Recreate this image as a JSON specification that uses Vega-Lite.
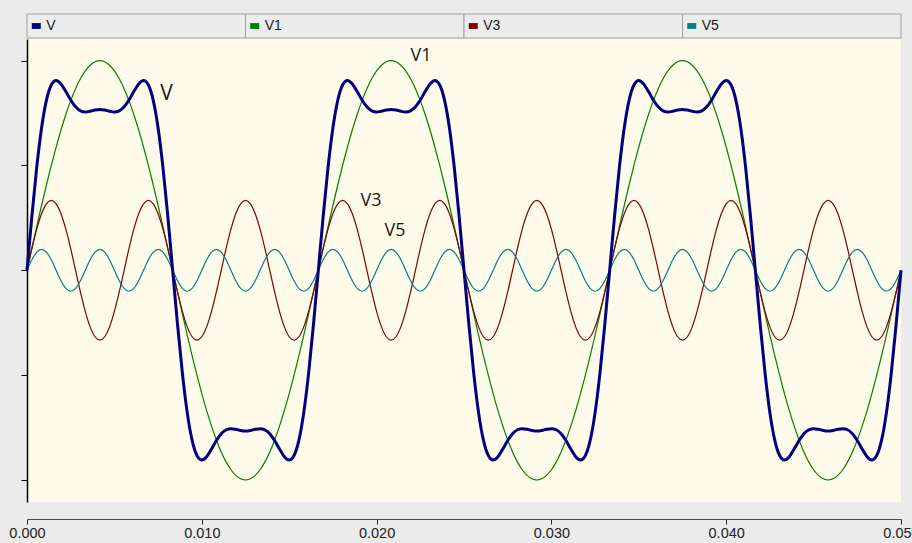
{
"$schema": "https://vega.github.io/schema/vega-lite/v6.json",
"background": "#EBEBEB",
"padding": {"left": 8, "top": 13, "right": 0, "bottom": 3},
"spacing": 1,
"bounds": "flush",
"config": {"view": {"stroke": null}, "font": "Liberation Sans"},
"resolve": {"scale": {"x": "independent", "y": "independent"}},
"datasets": {
"legend": [{"series":"V"},{"series":"V1"},{"series":"V3"},{"series":"V5"}],
"labels": [
{"t":0.00798,"value":0.839,"label":"V"},
{"t":0.02254,"value":1.023,"label":"V1"},
{"t":0.01968,"value":0.331,"label":"V3"},
{"t":0.02105,"value":0.185,"label":"V5"}
],
"wave": [
{"t":0,"V":0,"V1":0,"V3":0,"V5":0},
{"t":0.000278,"V":0.2575,"V1":0.1045,"V3":0.103,"V5":0.05},
{"t":0.000556,"V":0.4904,"V1":0.2079,"V3":0.1959,"V5":0.0866},
{"t":0.000833,"V":0.6787,"V1":0.309,"V3":0.2697,"V5":0.1},
{"t":0.001111,"V":0.8103,"V1":0.4067,"V3":0.317,"V5":0.0866},
{"t":0.001389,"V":0.8833,"V1":0.5,"V3":0.3333,"V5":0.05},
{"t":0.001667,"V":0.9048,"V1":0.5878,"V3":0.317,"V5":0},
{"t":0.001944,"V":0.8888,"V1":0.6691,"V3":0.2697,"V5":-0.05},
{"t":0.002222,"V":0.8524,"V1":0.7431,"V3":0.1959,"V5":-0.0866},
{"t":0.0025,"V":0.812,"V1":0.809,"V3":0.103,"V5":-0.1},
{"t":0.002778,"V":0.7794,"V1":0.866,"V3":0,"V5":-0.0866},
{"t":0.003056,"V":0.7605,"V1":0.9135,"V3":-0.103,"V5":-0.05},
{"t":0.003333,"V":0.7552,"V1":0.9511,"V3":-0.1959,"V5":0},
{"t":0.003611,"V":0.7584,"V1":0.9781,"V3":-0.2697,"V5":0.05},
{"t":0.003889,"V":0.7641,"V1":0.9945,"V3":-0.317,"V5":0.0866},
{"t":0.004167,"V":0.7667,"V1":1,"V3":-0.3333,"V5":0.1},
{"t":0.004444,"V":0.7641,"V1":0.9945,"V3":-0.317,"V5":0.0866},
{"t":0.004722,"V":0.7584,"V1":0.9781,"V3":-0.2697,"V5":0.05},
{"t":0.005,"V":0.7552,"V1":0.9511,"V3":-0.1959,"V5":0},
{"t":0.005278,"V":0.7605,"V1":0.9135,"V3":-0.103,"V5":-0.05},
{"t":0.005556,"V":0.7794,"V1":0.866,"V3":0,"V5":-0.0866},
{"t":0.005833,"V":0.812,"V1":0.809,"V3":0.103,"V5":-0.1},
{"t":0.006111,"V":0.8524,"V1":0.7431,"V3":0.1959,"V5":-0.0866},
{"t":0.006389,"V":0.8888,"V1":0.6691,"V3":0.2697,"V5":-0.05},
{"t":0.006667,"V":0.9048,"V1":0.5878,"V3":0.317,"V5":0},
{"t":0.006944,"V":0.8833,"V1":0.5,"V3":0.3333,"V5":0.05},
{"t":0.007222,"V":0.8103,"V1":0.4067,"V3":0.317,"V5":0.0866},
{"t":0.0075,"V":0.6787,"V1":0.309,"V3":0.2697,"V5":0.1},
{"t":0.007778,"V":0.4904,"V1":0.2079,"V3":0.1959,"V5":0.0866},
{"t":0.008056,"V":0.2575,"V1":0.1045,"V3":0.103,"V5":0.05},
{"t":0.008333,"V":0,"V1":0,"V3":0,"V5":0},
{"t":0.008611,"V":-0.2575,"V1":-0.1045,"V3":-0.103,"V5":-0.05},
{"t":0.008889,"V":-0.4904,"V1":-0.2079,"V3":-0.1959,"V5":-0.0866},
{"t":0.009167,"V":-0.6787,"V1":-0.309,"V3":-0.2697,"V5":-0.1},
{"t":0.009444,"V":-0.8103,"V1":-0.4067,"V3":-0.317,"V5":-0.0866},
{"t":0.009722,"V":-0.8833,"V1":-0.5,"V3":-0.3333,"V5":-0.05},
{"t":0.01,"V":-0.9048,"V1":-0.5878,"V3":-0.317,"V5":0},
{"t":0.010278,"V":-0.8888,"V1":-0.6691,"V3":-0.2697,"V5":0.05},
{"t":0.010556,"V":-0.8524,"V1":-0.7431,"V3":-0.1959,"V5":0.0866},
{"t":0.010833,"V":-0.812,"V1":-0.809,"V3":-0.103,"V5":0.1},
{"t":0.011111,"V":-0.7794,"V1":-0.866,"V3":0,"V5":0.0866},
{"t":0.011389,"V":-0.7605,"V1":-0.9135,"V3":0.103,"V5":0.05},
{"t":0.011667,"V":-0.7552,"V1":-0.9511,"V3":0.1959,"V5":0},
{"t":0.011944,"V":-0.7584,"V1":-0.9781,"V3":0.2697,"V5":-0.05},
{"t":0.012222,"V":-0.7641,"V1":-0.9945,"V3":0.317,"V5":-0.0866},
{"t":0.0125,"V":-0.7667,"V1":-1,"V3":0.3333,"V5":-0.1},
{"t":0.012778,"V":-0.7641,"V1":-0.9945,"V3":0.317,"V5":-0.0866},
{"t":0.013056,"V":-0.7584,"V1":-0.9781,"V3":0.2697,"V5":-0.05},
{"t":0.013333,"V":-0.7552,"V1":-0.9511,"V3":0.1959,"V5":0},
{"t":0.013611,"V":-0.7605,"V1":-0.9135,"V3":0.103,"V5":0.05},
{"t":0.013889,"V":-0.7794,"V1":-0.866,"V3":0,"V5":0.0866},
{"t":0.014167,"V":-0.812,"V1":-0.809,"V3":-0.103,"V5":0.1},
{"t":0.014444,"V":-0.8524,"V1":-0.7431,"V3":-0.1959,"V5":0.0866},
{"t":0.014722,"V":-0.8888,"V1":-0.6691,"V3":-0.2697,"V5":0.05},
{"t":0.015,"V":-0.9048,"V1":-0.5878,"V3":-0.317,"V5":0},
{"t":0.015278,"V":-0.8833,"V1":-0.5,"V3":-0.3333,"V5":-0.05},
{"t":0.015556,"V":-0.8103,"V1":-0.4067,"V3":-0.317,"V5":-0.0866},
{"t":0.015833,"V":-0.6787,"V1":-0.309,"V3":-0.2697,"V5":-0.1},
{"t":0.016111,"V":-0.4904,"V1":-0.2079,"V3":-0.1959,"V5":-0.0866},
{"t":0.016389,"V":-0.2575,"V1":-0.1045,"V3":-0.103,"V5":-0.05},
{"t":0.016667,"V":0,"V1":0,"V3":0,"V5":0},
{"t":0.016944,"V":0.2575,"V1":0.1045,"V3":0.103,"V5":0.05},
{"t":0.017222,"V":0.4904,"V1":0.2079,"V3":0.1959,"V5":0.0866},
{"t":0.0175,"V":0.6787,"V1":0.309,"V3":0.2697,"V5":0.1},
{"t":0.017778,"V":0.8103,"V1":0.4067,"V3":0.317,"V5":0.0866},
{"t":0.018056,"V":0.8833,"V1":0.5,"V3":0.3333,"V5":0.05},
{"t":0.018333,"V":0.9048,"V1":0.5878,"V3":0.317,"V5":0},
{"t":0.018611,"V":0.8888,"V1":0.6691,"V3":0.2697,"V5":-0.05},
{"t":0.018889,"V":0.8524,"V1":0.7431,"V3":0.1959,"V5":-0.0866},
{"t":0.019167,"V":0.812,"V1":0.809,"V3":0.103,"V5":-0.1},
{"t":0.019444,"V":0.7794,"V1":0.866,"V3":0,"V5":-0.0866},
{"t":0.019722,"V":0.7605,"V1":0.9135,"V3":-0.103,"V5":-0.05},
{"t":0.02,"V":0.7552,"V1":0.9511,"V3":-0.1959,"V5":0},
{"t":0.020278,"V":0.7584,"V1":0.9781,"V3":-0.2697,"V5":0.05},
{"t":0.020556,"V":0.7641,"V1":0.9945,"V3":-0.317,"V5":0.0866},
{"t":0.020833,"V":0.7667,"V1":1,"V3":-0.3333,"V5":0.1},
{"t":0.021111,"V":0.7641,"V1":0.9945,"V3":-0.317,"V5":0.0866},
{"t":0.021389,"V":0.7584,"V1":0.9781,"V3":-0.2697,"V5":0.05},
{"t":0.021667,"V":0.7552,"V1":0.9511,"V3":-0.1959,"V5":0},
{"t":0.021944,"V":0.7605,"V1":0.9135,"V3":-0.103,"V5":-0.05},
{"t":0.022222,"V":0.7794,"V1":0.866,"V3":0,"V5":-0.0866},
{"t":0.0225,"V":0.812,"V1":0.809,"V3":0.103,"V5":-0.1},
{"t":0.022778,"V":0.8524,"V1":0.7431,"V3":0.1959,"V5":-0.0866},
{"t":0.023056,"V":0.8888,"V1":0.6691,"V3":0.2697,"V5":-0.05},
{"t":0.023333,"V":0.9048,"V1":0.5878,"V3":0.317,"V5":0},
{"t":0.023611,"V":0.8833,"V1":0.5,"V3":0.3333,"V5":0.05},
{"t":0.023889,"V":0.8103,"V1":0.4067,"V3":0.317,"V5":0.0866},
{"t":0.024167,"V":0.6787,"V1":0.309,"V3":0.2697,"V5":0.1},
{"t":0.024444,"V":0.4904,"V1":0.2079,"V3":0.1959,"V5":0.0866},
{"t":0.024722,"V":0.2575,"V1":0.1045,"V3":0.103,"V5":0.05},
{"t":0.025,"V":0,"V1":0,"V3":0,"V5":0},
{"t":0.025278,"V":-0.2575,"V1":-0.1045,"V3":-0.103,"V5":-0.05},
{"t":0.025556,"V":-0.4904,"V1":-0.2079,"V3":-0.1959,"V5":-0.0866},
{"t":0.025833,"V":-0.6787,"V1":-0.309,"V3":-0.2697,"V5":-0.1},
{"t":0.026111,"V":-0.8103,"V1":-0.4067,"V3":-0.317,"V5":-0.0866},
{"t":0.026389,"V":-0.8833,"V1":-0.5,"V3":-0.3333,"V5":-0.05},
{"t":0.026667,"V":-0.9048,"V1":-0.5878,"V3":-0.317,"V5":0},
{"t":0.026944,"V":-0.8888,"V1":-0.6691,"V3":-0.2697,"V5":0.05},
{"t":0.027222,"V":-0.8524,"V1":-0.7431,"V3":-0.1959,"V5":0.0866},
{"t":0.0275,"V":-0.812,"V1":-0.809,"V3":-0.103,"V5":0.1},
{"t":0.027778,"V":-0.7794,"V1":-0.866,"V3":0,"V5":0.0866},
{"t":0.028056,"V":-0.7605,"V1":-0.9135,"V3":0.103,"V5":0.05},
{"t":0.028333,"V":-0.7552,"V1":-0.9511,"V3":0.1959,"V5":0},
{"t":0.028611,"V":-0.7584,"V1":-0.9781,"V3":0.2697,"V5":-0.05},
{"t":0.028889,"V":-0.7641,"V1":-0.9945,"V3":0.317,"V5":-0.0866},
{"t":0.029167,"V":-0.7667,"V1":-1,"V3":0.3333,"V5":-0.1},
{"t":0.029444,"V":-0.7641,"V1":-0.9945,"V3":0.317,"V5":-0.0866},
{"t":0.029722,"V":-0.7584,"V1":-0.9781,"V3":0.2697,"V5":-0.05},
{"t":0.03,"V":-0.7552,"V1":-0.9511,"V3":0.1959,"V5":0},
{"t":0.030278,"V":-0.7605,"V1":-0.9135,"V3":0.103,"V5":0.05},
{"t":0.030556,"V":-0.7794,"V1":-0.866,"V3":0,"V5":0.0866},
{"t":0.030833,"V":-0.812,"V1":-0.809,"V3":-0.103,"V5":0.1},
{"t":0.031111,"V":-0.8524,"V1":-0.7431,"V3":-0.1959,"V5":0.0866},
{"t":0.031389,"V":-0.8888,"V1":-0.6691,"V3":-0.2697,"V5":0.05},
{"t":0.031667,"V":-0.9048,"V1":-0.5878,"V3":-0.317,"V5":0},
{"t":0.031944,"V":-0.8833,"V1":-0.5,"V3":-0.3333,"V5":-0.05},
{"t":0.032222,"V":-0.8103,"V1":-0.4067,"V3":-0.317,"V5":-0.0866},
{"t":0.0325,"V":-0.6787,"V1":-0.309,"V3":-0.2697,"V5":-0.1},
{"t":0.032778,"V":-0.4904,"V1":-0.2079,"V3":-0.1959,"V5":-0.0866},
{"t":0.033056,"V":-0.2575,"V1":-0.1045,"V3":-0.103,"V5":-0.05},
{"t":0.033333,"V":0,"V1":0,"V3":0,"V5":0},
{"t":0.033611,"V":0.2575,"V1":0.1045,"V3":0.103,"V5":0.05},
{"t":0.033889,"V":0.4904,"V1":0.2079,"V3":0.1959,"V5":0.0866},
{"t":0.034167,"V":0.6787,"V1":0.309,"V3":0.2697,"V5":0.1},
{"t":0.034444,"V":0.8103,"V1":0.4067,"V3":0.317,"V5":0.0866},
{"t":0.034722,"V":0.8833,"V1":0.5,"V3":0.3333,"V5":0.05},
{"t":0.035,"V":0.9048,"V1":0.5878,"V3":0.317,"V5":0},
{"t":0.035278,"V":0.8888,"V1":0.6691,"V3":0.2697,"V5":-0.05},
{"t":0.035556,"V":0.8524,"V1":0.7431,"V3":0.1959,"V5":-0.0866},
{"t":0.035833,"V":0.812,"V1":0.809,"V3":0.103,"V5":-0.1},
{"t":0.036111,"V":0.7794,"V1":0.866,"V3":0,"V5":-0.0866},
{"t":0.036389,"V":0.7605,"V1":0.9135,"V3":-0.103,"V5":-0.05},
{"t":0.036667,"V":0.7552,"V1":0.9511,"V3":-0.1959,"V5":0},
{"t":0.036944,"V":0.7584,"V1":0.9781,"V3":-0.2697,"V5":0.05},
{"t":0.037222,"V":0.7641,"V1":0.9945,"V3":-0.317,"V5":0.0866},
{"t":0.0375,"V":0.7667,"V1":1,"V3":-0.3333,"V5":0.1},
{"t":0.037778,"V":0.7641,"V1":0.9945,"V3":-0.317,"V5":0.0866},
{"t":0.038056,"V":0.7584,"V1":0.9781,"V3":-0.2697,"V5":0.05},
{"t":0.038333,"V":0.7552,"V1":0.9511,"V3":-0.1959,"V5":0},
{"t":0.038611,"V":0.7605,"V1":0.9135,"V3":-0.103,"V5":-0.05},
{"t":0.038889,"V":0.7794,"V1":0.866,"V3":0,"V5":-0.0866},
{"t":0.039167,"V":0.812,"V1":0.809,"V3":0.103,"V5":-0.1},
{"t":0.039444,"V":0.8524,"V1":0.7431,"V3":0.1959,"V5":-0.0866},
{"t":0.039722,"V":0.8888,"V1":0.6691,"V3":0.2697,"V5":-0.05},
{"t":0.04,"V":0.9048,"V1":0.5878,"V3":0.317,"V5":0},
{"t":0.040278,"V":0.8833,"V1":0.5,"V3":0.3333,"V5":0.05},
{"t":0.040556,"V":0.8103,"V1":0.4067,"V3":0.317,"V5":0.0866},
{"t":0.040833,"V":0.6787,"V1":0.309,"V3":0.2697,"V5":0.1},
{"t":0.041111,"V":0.4904,"V1":0.2079,"V3":0.1959,"V5":0.0866},
{"t":0.041389,"V":0.2575,"V1":0.1045,"V3":0.103,"V5":0.05},
{"t":0.041667,"V":0,"V1":0,"V3":0,"V5":0},
{"t":0.041944,"V":-0.2575,"V1":-0.1045,"V3":-0.103,"V5":-0.05},
{"t":0.042222,"V":-0.4904,"V1":-0.2079,"V3":-0.1959,"V5":-0.0866},
{"t":0.0425,"V":-0.6787,"V1":-0.309,"V3":-0.2697,"V5":-0.1},
{"t":0.042778,"V":-0.8103,"V1":-0.4067,"V3":-0.317,"V5":-0.0866},
{"t":0.043056,"V":-0.8833,"V1":-0.5,"V3":-0.3333,"V5":-0.05},
{"t":0.043333,"V":-0.9048,"V1":-0.5878,"V3":-0.317,"V5":0},
{"t":0.043611,"V":-0.8888,"V1":-0.6691,"V3":-0.2697,"V5":0.05},
{"t":0.043889,"V":-0.8524,"V1":-0.7431,"V3":-0.1959,"V5":0.0866},
{"t":0.044167,"V":-0.812,"V1":-0.809,"V3":-0.103,"V5":0.1},
{"t":0.044444,"V":-0.7794,"V1":-0.866,"V3":0,"V5":0.0866},
{"t":0.044722,"V":-0.7605,"V1":-0.9135,"V3":0.103,"V5":0.05},
{"t":0.045,"V":-0.7552,"V1":-0.9511,"V3":0.1959,"V5":0},
{"t":0.045278,"V":-0.7584,"V1":-0.9781,"V3":0.2697,"V5":-0.05},
{"t":0.045556,"V":-0.7641,"V1":-0.9945,"V3":0.317,"V5":-0.0866},
{"t":0.045833,"V":-0.7667,"V1":-1,"V3":0.3333,"V5":-0.1},
{"t":0.046111,"V":-0.7641,"V1":-0.9945,"V3":0.317,"V5":-0.0866},
{"t":0.046389,"V":-0.7584,"V1":-0.9781,"V3":0.2697,"V5":-0.05},
{"t":0.046667,"V":-0.7552,"V1":-0.9511,"V3":0.1959,"V5":0},
{"t":0.046944,"V":-0.7605,"V1":-0.9135,"V3":0.103,"V5":0.05},
{"t":0.047222,"V":-0.7794,"V1":-0.866,"V3":0,"V5":0.0866},
{"t":0.0475,"V":-0.812,"V1":-0.809,"V3":-0.103,"V5":0.1},
{"t":0.047778,"V":-0.8524,"V1":-0.7431,"V3":-0.1959,"V5":0.0866},
{"t":0.048056,"V":-0.8888,"V1":-0.6691,"V3":-0.2697,"V5":0.05},
{"t":0.048333,"V":-0.9048,"V1":-0.5878,"V3":-0.317,"V5":0},
{"t":0.048611,"V":-0.8833,"V1":-0.5,"V3":-0.3333,"V5":-0.05},
{"t":0.048889,"V":-0.8103,"V1":-0.4067,"V3":-0.317,"V5":-0.0866},
{"t":0.049167,"V":-0.6787,"V1":-0.309,"V3":-0.2697,"V5":-0.1},
{"t":0.049444,"V":-0.4904,"V1":-0.2079,"V3":-0.1959,"V5":-0.0866},
{"t":0.049722,"V":-0.2575,"V1":-0.1045,"V3":-0.103,"V5":-0.05},
{"t":0.05,"V":0,"V1":0,"V3":0,"V5":0}
]
},
"vconcat": [
{
"width": 874,
"height": 24,
"data": {"name": "legend"},
"encoding": {
"x": {"field": "series", "type": "nominal", "sort": ["V","V1","V3","V5"], "axis": null, "scale": {"paddingInner": 0, "paddingOuter": 0}}
},
"layer": [
{"mark": {"type": "rect", "fill": "#ECECEC", "stroke": "#A0A0A0", "strokeWidth": 1}},
{"mark": {"type": "point", "filled": true, "opacity": 1, "shape": "M-1,-0.65L1,-0.65L1,0.65L-1,0.65Z", "size": 81, "xOffset": -100},
"encoding": {"color": {"field": "series", "type": "nominal", "legend": null, "scale": {"domain": ["V","V1","V3","V5"], "range": ["#000080","#008000","#800000","#008080"]}}}},
{"mark": {"type": "text", "align": "left", "dx": -90, "fontSize": 14, "font": "Liberation Sans", "color": "#1a1a1a"},
"encoding": {"text": {"field": "series"}}}
]
},
{
"width": 874,
"height": 463,
"view": {"fill": "#FEFBEB", "stroke": null},
"data": {"name": "wave"},
"transform": [{"fold": ["V","V1","V3","V5"], "as": ["series","value"]}],
"encoding": {
"x": {"field": "t", "type": "quantitative",
"scale": {"domain": [0, 0.05], "nice": false},
"axis": {"values": [0,0.01,0.02,0.03,0.04,0.05], "format": ".3f", "title": null, "offset": 17, "grid": false, "domainColor": "#4a4a4a", "tickColor": "#222222", "tickSize": 5, "labelFontSize": 14.5, "labelFont": "Liberation Sans", "labelColor": "#222222", "labelPadding": 2, "labelFlush": false, "labelOverlap": false}},
"y": {"field": "value", "type": "quantitative",
"scale": {"domain": [-1.105, 1.103], "nice": false, "zero": false},
"axis": {"values": [-1,-0.5,0,0.5,1], "labels": false, "title": null, "grid": false, "domainColor": "#000000", "domainWidth": 1.5, "tickColor": "#000000", "tickSize": 6}},
"color": {"field": "series", "type": "nominal", "legend": null, "scale": {"domain": ["V","V1","V3","V5"], "range": ["#000080","#008000","#800000","#008080"]}}
},
"layer": [
{"transform": [{"filter": "datum.series !== 'V'"}], "mark": {"type": "line", "strokeWidth": 1.2, "interpolate": "monotone"}},
{"transform": [{"filter": "datum.series === 'V'"}], "mark": {"type": "line", "strokeWidth": 3, "interpolate": "monotone"}},
{"data": {"name": "labels"}, "transform": [{"filter": "datum.label !== 'V'"}], "mark": {"type": "text", "fontSize": 18, "font": "Open Sans"},
"encoding": {"text": {"field": "label"}, "color": {"value": "#1a1a1a"}}},
{"data": {"name": "labels"}, "transform": [{"filter": "datum.label === 'V'"}], "mark": {"type": "text", "fontSize": 21, "font": "Open Sans"},
"encoding": {"text": {"field": "label"}, "color": {"value": "#1a1a1a"}}}
]
}
]
}
